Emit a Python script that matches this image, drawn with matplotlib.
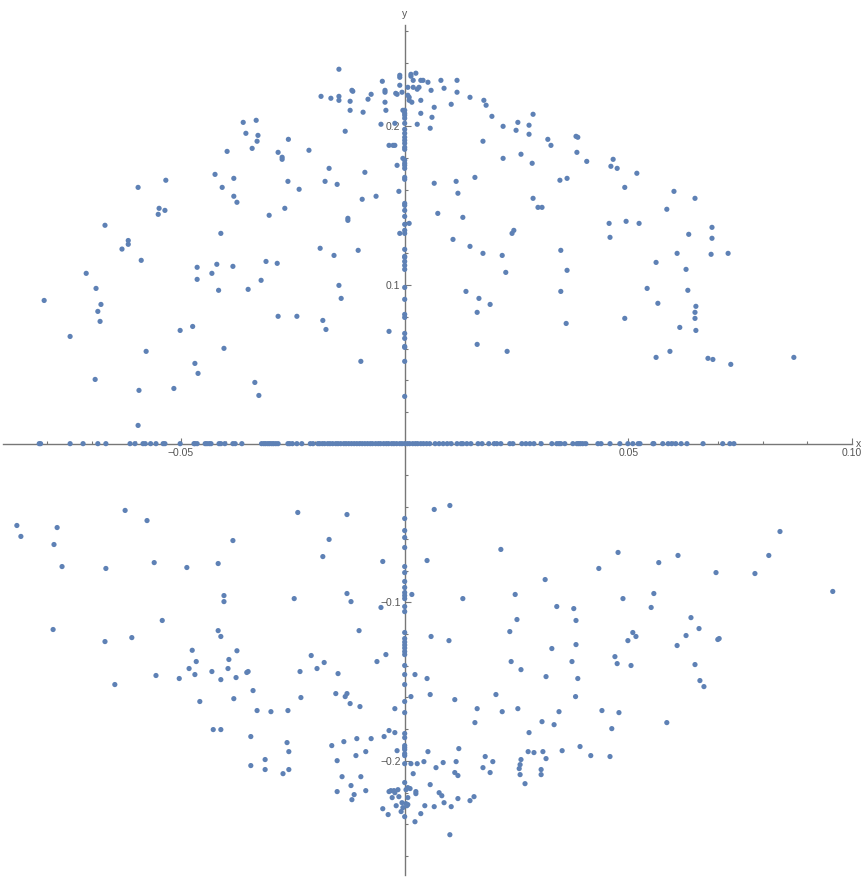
import numpy as np
import matplotlib
matplotlib.use("Agg")
import matplotlib.pyplot as plt

# points, (x, y)
upper_pts = [
    (-0.0361, 0.2026), (-0.0332, 0.2039), (-0.0355, 0.1957), (-0.0328, 0.1944), (-0.0330, 0.1907),
    (-0.0341, 0.1862), (-0.0260, 0.1919), (-0.0397, 0.1843), (-0.0283, 0.1837), (-0.0274, 0.1806),
    (-0.0274, 0.1793), (-0.0424, 0.1698), (-0.0382, 0.1673), (-0.0261, 0.1654), (-0.0408, 0.1616),
    (-0.0382, 0.1560), (-0.0375, 0.1522), (-0.0268, 0.1484), (-0.0303, 0.1440), (-0.0411, 0.1326),
    (-0.0596, 0.1616), (-0.0534, 0.1661), (-0.0549, 0.1484), (-0.0536, 0.1471), (-0.0551, 0.1446),
    (-0.0670, 0.1377), (-0.0618, 0.1281), (-0.0618, 0.1257), (-0.0632, 0.1227),
    (-0.0589, 0.1156), (-0.0712, 0.1074), (-0.0806, 0.0903), (-0.0690, 0.0979), (-0.0679, 0.0878),
    (-0.0686, 0.0834), (-0.0681, 0.0771), (-0.0748, 0.0676), (-0.0692, 0.0405), (-0.0594, 0.0336),
    (-0.0578, 0.0582), (-0.0596, 0.0115), (-0.0502, 0.0714), (-0.0474, 0.0739), (-0.0464, 0.1112),
    (-0.0464, 0.1036), (-0.0420, 0.1131), (-0.0431, 0.1074), (-0.0384, 0.1118), (-0.0416, 0.0967),
    (-0.0469, 0.0506), (-0.0462, 0.0443), (-0.0516, 0.0348), (-0.0404, 0.0601), (-0.0350, 0.0973),
    (-0.0321, 0.1030), (-0.0310, 0.1149), (-0.0285, 0.1137), (-0.0283, 0.0803), (-0.0335, 0.0386),
    (-0.0326, 0.0304),
    (-0.0147, 0.2361), (-0.0050, 0.2285), (-0.0011, 0.2323), (-0.0011, 0.2310), (0.0014, 0.2329),
    (0.0014, 0.2317), (0.0025, 0.2336), (0.0019, 0.2291), (0.0036, 0.2291), (0.0041, 0.2291),
    (0.0052, 0.2279), (0.0081, 0.2291), (0.0117, 0.2291), (-0.0011, 0.2260), (0.0007, 0.2247),
    (0.0019, 0.2247), (0.0028, 0.2235), (0.0032, 0.2247), (0.0088, 0.2241), (0.0059, 0.2228),
    (0.0117, 0.2216), (-0.0118, 0.2228), (-0.0116, 0.2222), (-0.0075, 0.2203), (-0.0044, 0.2228),
    (-0.0044, 0.2216), (-0.0020, 0.2209), (-0.0017, 0.2203), (-0.0006, 0.2216), (-0.0187, 0.2190),
    (-0.0165, 0.2178), (-0.0147, 0.2190), (-0.0147, 0.2165), (-0.0122, 0.2159), (-0.0082, 0.2172),
    (-0.0044, 0.2153), (0.0007, 0.2197), (0.0010, 0.2184), (0.0010, 0.2165), (0.0016, 0.2153),
    (0.0036, 0.2165), (0.0146, 0.2184), (0.0177, 0.2165), (0.0182, 0.2134), (0.0104, 0.2140),
    (0.0066, 0.2121), (-0.0122, 0.2102), (-0.0093, 0.2090), (-0.0042, 0.2102), (-0.0004, 0.2102),
    (0.0036, 0.2083), (0.0061, 0.2058), (0.0195, 0.2064), (0.0287, 0.2077), (-0.0053, 0.2014),
    (-0.0022, 0.2020), (0.0028, 0.2014), (0.0057, 0.1989), (0.0220, 0.2001), (0.0253, 0.2026),
    (0.0249, 0.1976), (0.0278, 0.2008), (0.0278, 0.1951), (-0.0133, 0.1970), (0.0175, 0.1907),
    (0.0320, 0.1919), (0.0327, 0.1881), (0.0383, 0.1938), (0.0387, 0.1932), (0.0385, 0.1837),
    (-0.0035, 0.1881), (-0.0026, 0.1881), (-0.0022, 0.1881), (-0.0214, 0.1850), (0.0260, 0.1825),
    (0.0220, 0.1799), (0.0285, 0.1768), (-0.0004, 0.1799), (-0.0017, 0.1755), (-0.0169, 0.1736),
    (-0.0089, 0.1711), (-0.0178, 0.1654), (-0.0151, 0.1635), (-0.0236, 0.1604), (0.0157, 0.1679),
    (0.0066, 0.1642), (0.0115, 0.1654), (0.0119, 0.1579), (0.0347, 0.1661), (0.0363, 0.1673),
    (0.0287, 0.1547), (0.0298, 0.1490), (0.0307, 0.1490), (-0.0013, 0.1591), (-0.0064, 0.1560),
    (-0.0095, 0.1541), (-0.0127, 0.1421), (-0.0127, 0.1408), (0.0074, 0.1452), (0.0130, 0.1427),
    (0.0010, 0.1389), (-0.0011, 0.1326), (0.0108, 0.1288), (0.0146, 0.1244), (0.0240, 0.1326),
    (0.0244, 0.1345), (-0.0189, 0.1232), (-0.0104, 0.1219), (0.0349, 0.1219),
    (-0.0158, 0.1187), (0.0175, 0.1200), (0.0218, 0.1187), (0.0226, 0.1080), (0.0363, 0.1093),
    (-0.0147, 0.0998), (-0.0142, 0.0916), (-0.0241, 0.0803), (-0.0183, 0.0777), (-0.0176, 0.0720),
    (-0.0098, 0.0519), (-0.0035, 0.0708), (0.0137, 0.0960), (0.0166, 0.0916), (0.0191, 0.0878),
    (0.0162, 0.0828), (0.0162, 0.0626), (0.0229, 0.0582), (0.0349, 0.0960), (0.0361, 0.0758),
    (0.0407, 0.1780), (0.0466, 0.1793), (0.0461, 0.1749), (0.0475, 0.1736), (0.0519, 0.1705),
    (0.0492, 0.1616), (0.0602, 0.1591), (0.0649, 0.1547), (0.0586, 0.1478), (0.0457, 0.1389),
    (0.0495, 0.1402), (0.0524, 0.1389), (0.0459, 0.1301), (0.0635, 0.1320), (0.0687, 0.1364),
    (0.0687, 0.1295), (0.0609, 0.1200), (0.0685, 0.1194), (0.0723, 0.1200), (0.0562, 0.1143),
    (0.0629, 0.1099), (0.0542, 0.0979), (0.0633, 0.0967), (0.0566, 0.0885), (0.0651, 0.0866),
    (0.0649, 0.0828), (0.0649, 0.0790), (0.0492, 0.0790), (0.0615, 0.0733), (0.0651, 0.0714),
    (0.0593, 0.0582), (0.0562, 0.0544), (0.0678, 0.0538), (0.0689, 0.0531), (0.0729, 0.0500),
    (0.0870, 0.0544),
]

lower_pts = [
    (-0.0625, -0.0421), (-0.0576, -0.0485), (-0.0867, -0.0516), (-0.0858, -0.0585), (-0.0777, -0.0529),
    (-0.0784, -0.0636), (-0.0384, -0.0611), (-0.0766, -0.0775), (-0.0668, -0.0787), (-0.0560, -0.0750),
    (-0.0487, -0.0781), (-0.0417, -0.0756), (-0.0404, -0.0958), (-0.0404, -0.0996), (-0.0542, -0.1115),
    (-0.0786, -0.1172), (-0.0670, -0.1248), (-0.0610, -0.1223), (-0.0417, -0.1179), (-0.0411, -0.1216),
    (-0.0475, -0.1303), (-0.0375, -0.1306),
    (-0.0466, -0.1374), (-0.0393, -0.1361), (-0.0482, -0.1418), (-0.0395, -0.1418), (-0.0469, -0.1456),
    (-0.0431, -0.1437), (-0.0353, -0.1443), (-0.0350, -0.1437), (-0.0411, -0.1488), (-0.0377, -0.1475),
    (-0.0556, -0.1462), (-0.0504, -0.1481), (-0.0648, -0.1519), (-0.0339, -0.1557), (-0.0458, -0.1626),
    (-0.0382, -0.1608), (-0.0330, -0.1683), (-0.0299, -0.1690), (-0.0261, -0.1683), (-0.0428, -0.1803),
    (-0.0411, -0.1803), (-0.0344, -0.1847), (-0.0263, -0.1885), (-0.0259, -0.1942), (-0.0312, -0.1992),
    (-0.0344, -0.2030), (-0.0312, -0.2055), (-0.0272, -0.2081), (-0.0259, -0.2055),
    (-0.0239, -0.0434), (-0.0129, -0.0447), (-0.0169, -0.0604), (-0.0183, -0.0712), (-0.0049, -0.0743),
    (-0.0247, -0.0977), (-0.0129, -0.0945), (-0.0120, -0.0996), (-0.0053, -0.1033), (-0.0102, -0.1179),
    (0.0016, -0.0951), (0.0066, -0.0415), (0.0101, -0.0390), (0.0050, -0.0737), (0.0130, -0.0977),
    (0.0215, -0.0667), (0.0247, -0.0951), (0.0251, -0.1109), (0.0235, -0.1185), (0.0314, -0.0857),
    (0.0340, -0.1027), (0.0378, -0.1040), (0.0383, -0.1115), (0.0059, -0.1216), (0.0099, -0.1242),
    (0.0329, -0.1292), (0.0383, -0.1267),
    (0.0839, -0.0554), (0.0477, -0.0686), (0.0611, -0.0705), (0.0814, -0.0705), (0.0434, -0.0787),
    (0.0568, -0.0750), (0.0696, -0.0813), (0.0783, -0.0819), (0.0957, -0.0932), (0.0488, -0.0977),
    (0.0557, -0.0945), (0.0551, -0.1033), (0.0640, -0.1097), (0.0658, -0.1166), (0.0510, -0.1191),
    (0.0517, -0.1216), (0.0499, -0.1242), (0.0629, -0.1210), (0.0700, -0.1235), (0.0703, -0.1229),
    (0.0609, -0.1273),
    (0.0470, -0.1343), (0.0475, -0.1387), (0.0506, -0.1399), (0.0649, -0.1393), (0.0660, -0.1494),
    (0.0669, -0.1532), (0.0387, -0.1481), (0.0382, -0.1595), (0.0441, -0.1683), (0.0479, -0.1696),
    (0.0463, -0.1797), (0.0586, -0.1759), (0.0392, -0.1910), (0.0416, -0.1967), (0.0459, -0.1973),
    (-0.0209, -0.1336), (-0.0234, -0.1437), (-0.0196, -0.1418), (-0.0180, -0.1380), (-0.0149, -0.1450),
    (-0.0062, -0.1374), (-0.0042, -0.1330), (0.0023, -0.1456), (0.0050, -0.1481), (0.0238, -0.1374),
    (0.0260, -0.1425), (0.0374, -0.1374), (0.0316, -0.1469),
    (-0.0232, -0.1601), (-0.0154, -0.1576), (-0.0133, -0.1595), (-0.0129, -0.1576), (-0.0122, -0.1639),
    (-0.0100, -0.1658), (-0.0022, -0.1671), (0.0014, -0.1595), (0.0057, -0.1582), (0.0112, -0.1614),
    (0.0204, -0.1582), (0.0162, -0.1671), (0.0218, -0.1690), (0.0253, -0.1671), (0.0345, -0.1690),
    (0.0157, -0.1759), (0.0307, -0.1753), (0.0334, -0.1772), (0.0278, -0.1822),
    (-0.0163, -0.1904), (-0.0136, -0.1879), (-0.0107, -0.1860), (-0.0075, -0.1860), (-0.0046, -0.1847),
    (-0.0035, -0.1809), (-0.0022, -0.1822), (-0.0087, -0.1942), (-0.0109, -0.1967), (-0.0151, -0.1999),
    (-0.0017, -0.1936),
    (0.0052, -0.1942), (0.0121, -0.1923), (0.0276, -0.1942), (0.0289, -0.1948), (0.0309, -0.1942),
    (0.0352, -0.1936),
    (0.0014, -0.2018), (0.0028, -0.2018), (0.0043, -0.2005), (0.0086, -0.2011), (0.0115, -0.2005),
    (0.0070, -0.2043), (0.0180, -0.1973), (0.0197, -0.2005), (0.0175, -0.2043), (0.0191, -0.2074),
    (0.0260, -0.1992), (0.0258, -0.2024), (0.0256, -0.2049), (0.0258, -0.2087), (0.0316, -0.1986),
    (0.0305, -0.2055), (0.0305, -0.2087), (0.0269, -0.2144), (0.0019, -0.2081), (0.0112, -0.2074),
    (0.0119, -0.2093),
    (-0.0140, -0.2100), (-0.0098, -0.2100), (-0.0120, -0.2156), (-0.0151, -0.2194), (-0.0113, -0.2213),
    (-0.0118, -0.2245), (-0.0087, -0.2188), (0.0000, -0.2137), (0.0057, -0.2150), (-0.0035, -0.2194),
    (-0.0031, -0.2188), (-0.0024, -0.2188), (-0.0022, -0.2201), (-0.0015, -0.2182), (0.0003, -0.2182),
    (0.0007, -0.2169), (0.0012, -0.2175), (0.0025, -0.2194), (0.0025, -0.2207), (-0.0028, -0.2232),
    (-0.0013, -0.2226), (0.0007, -0.2232), (0.0077, -0.2201), (0.0083, -0.2220), (0.0088, -0.2264),
    (0.0119, -0.2238), (0.0155, -0.2226), (0.0146, -0.2251), (0.0104, -0.2289), (0.0066, -0.2289),
    (0.0045, -0.2283), (-0.0006, -0.2264), (0.0003, -0.2270), (0.0005, -0.2283), (0.0007, -0.2276),
    (-0.0019, -0.2283), (-0.0004, -0.2295), (-0.0049, -0.2302), (-0.0037, -0.2339), (-0.0008, -0.2320),
    (0.0000, -0.2352), (0.0036, -0.2333), (0.0023, -0.2384), (0.0101, -0.2466),
]

# points lying on the y axis (x = 0)
y_axis_vals = [
    0.2102, 0.2083, 0.2071, 0.2052, 0.2020, 0.1982, 0.1957, 0.1932, 0.1913, 0.1894,
    0.1869, 0.1856, 0.1787, 0.1768, 0.1755, 0.1736, 0.1679, 0.1667, 0.1515, 0.1503,
    0.1471, 0.1433, 0.1383, 0.1345, 0.1326, 0.1225, 0.1181, 0.1175, 0.1149, 0.1124,
    0.1099, 0.0985, 0.0910, 0.0815, 0.0796, 0.0695, 0.0664, 0.0613, 0.0607, 0.0519, 0.0298,
    -0.0472, -0.0548, -0.0592, -0.0655, -0.0775, -0.0813, -0.0869, -0.0907, -0.0939, -0.0958,
    -0.0977, -0.1027, -0.1059, -0.1191, -0.1229, -0.1251, -0.1270, -0.1289, -0.1311, -0.1330,
    -0.1399, -0.1456, -0.1519, -0.1626, -0.1696, -0.1828, -0.1854, -0.1904, -0.1917, -0.1929,
    -0.1955, -0.1967, -0.2018,
]

# points lying on the x axis (y = 0)
x_axis_vals = [
    -0.0817, -0.0814, -0.0748, -0.0719, -0.0686, -0.0668, -0.0614, -0.0603, -0.0585, -0.0580,
    -0.0568, -0.0556, -0.0540, -0.0536, -0.0502, -0.0471, -0.0469, -0.0464, -0.0446, -0.0442,
    -0.0437, -0.0433, -0.0415, -0.0411, -0.0402, -0.0384, -0.0379, -0.0364, -0.0320, -0.0315,
    -0.0311, -0.0306, -0.0302, -0.0297, -0.0293, -0.0288, -0.0283, -0.0261, -0.0257, -0.0251,
    -0.0241, -0.0230, -0.0211, -0.0205, -0.0194, -0.0190, -0.0184, -0.0179, -0.0172, -0.0167,
    -0.0161, -0.0154, -0.0149, -0.0143, -0.0136, -0.0131, -0.0125, -0.0119, -0.0113, -0.0107,
    -0.0101, -0.0095, -0.0089, -0.0083, -0.0077, -0.0072, -0.0065, -0.0059, -0.0054, -0.0047,
    -0.0041, -0.0036, -0.0029, -0.0024, -0.0018, -0.0011, -0.0006, 0.0000, 0.0006, 0.0011,
    0.0018, 0.0024, 0.0029, 0.0036, 0.0042, 0.0049, 0.0056, 0.0068, 0.0077, 0.0086,
    0.0095, 0.0104, 0.0117, 0.0126, 0.0130, 0.0139, 0.0148, 0.0164, 0.0173, 0.0188,
    0.0200, 0.0206, 0.0215, 0.0235, 0.0242, 0.0262, 0.0271, 0.0280, 0.0289, 0.0305,
    0.0329, 0.0340, 0.0345, 0.0349, 0.0358, 0.0376, 0.0385, 0.0389, 0.0393, 0.0398,
    0.0405, 0.0432, 0.0439, 0.0459, 0.0481, 0.0499, 0.0510, 0.0522, 0.0526, 0.0555,
    0.0557, 0.0577, 0.0589, 0.0597, 0.0606, 0.0618, 0.0631, 0.0667, 0.0711, 0.0727, 0.0736,
]

x_major = [-0.05, 0.05, 0.10]
x_major_labels = ["\u22120.05", "0.05", "0.10"]
y_major = [-0.2, -0.1, 0.1, 0.2]
y_major_labels = ["\u22120.2", "\u22120.1", "0.1", "0.2"]

pt_color = "#5E81B5"
axis_color = "#777777"
text_color = "#555555"
pt_size = 14

fig = plt.figure(figsize=(8.66, 8.81), dpi=100)
ax = fig.add_axes([3 / 866, 6 / 881, 849 / 866, 850 / 881])

up = np.array(upper_pts)
lo = np.array(lower_pts)
ax.scatter(up[:, 0], up[:, 1], s=pt_size, color=pt_color, edgecolors="none", zorder=3)
ax.scatter(lo[:, 0], lo[:, 1], s=pt_size, color=pt_color, edgecolors="none", zorder=3)
ax.scatter(np.zeros(len(y_axis_vals)), y_axis_vals, s=pt_size, color=pt_color, edgecolors="none", zorder=3)
ax.scatter(x_axis_vals, np.zeros(len(x_axis_vals)), s=pt_size, color=pt_color, edgecolors="none", zorder=3)

ax.set_xlim(-0.0898, 0.1)
ax.set_ylim(-0.272, 0.264)

for s in ["top", "right"]:
    ax.spines[s].set_visible(False)
for s in ["left", "bottom"]:
    ax.spines[s].set_position("zero")
    ax.spines[s].set_color(axis_color)
    ax.spines[s].set_linewidth(1.0)
    ax.spines[s].set_zorder(1)

ax.set_xticks(x_major)
ax.set_xticklabels(x_major_labels)
ax.set_xticks(np.arange(-0.08, 0.1001, 0.01), minor=True)
ax.set_yticks(y_major)
ax.set_yticklabels(y_major_labels)
ax.set_yticks(np.arange(-0.26, 0.2601, 0.02), minor=True)

ax.tick_params(which="both", direction="in", color=axis_color, width=0.8,
               labelsize=7.5, labelcolor=text_color, pad=3)
ax.tick_params(which="major", length=4.5)
ax.tick_params(which="minor", length=2.5)
for lab in ax.get_xticklabels() + ax.get_yticklabels():
    lab.set_family("Liberation Sans")

ax.annotate("x", xy=(0.1, 0), xytext=(3, 0), textcoords="offset points",
            ha="left", va="center", fontsize=7.5, color=text_color, family="Liberation Sans")
ax.annotate("y", xy=(0, 0.264), xytext=(0, 4), textcoords="offset points",
            ha="center", va="bottom", fontsize=7.5, color=text_color, family="Liberation Sans")

fig.savefig("out.png", dpi=100)
